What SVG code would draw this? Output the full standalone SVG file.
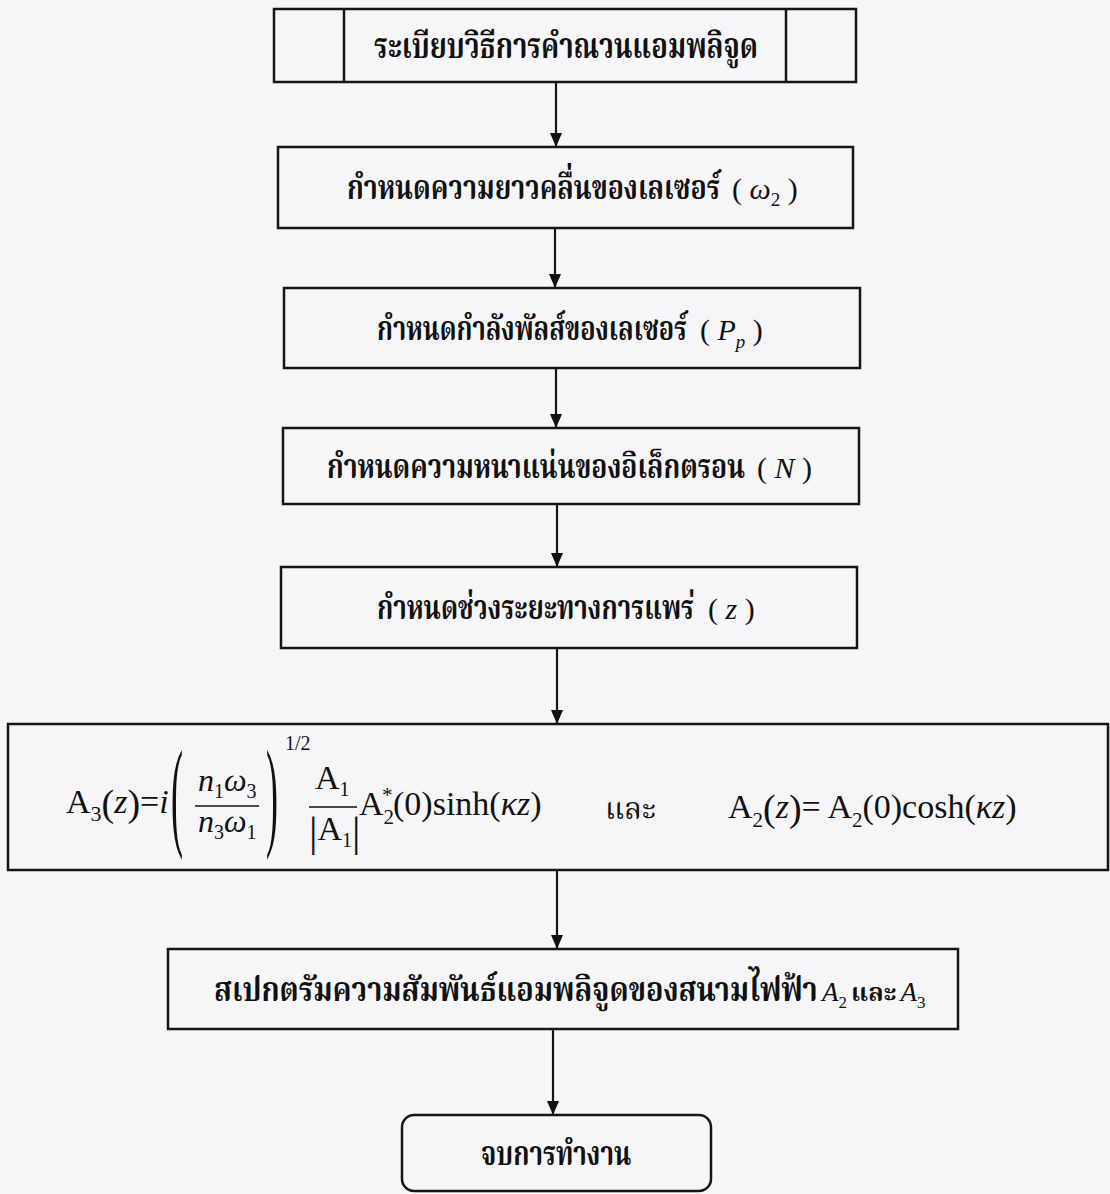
<svg xmlns="http://www.w3.org/2000/svg" width="1110" height="1194" viewBox="0 0 1110 1194">
<defs>
<marker id="ah" markerWidth="14" markerHeight="12" refX="14" refY="6" orient="auto" markerUnits="userSpaceOnUse" viewBox="0 0 14 12">
<path d="M0,0 L14,6 L0,12 Z" fill="#111"/>
</marker>
<style>
.box{fill:none;stroke:#151515;stroke-width:2.5}
.conn{stroke:#151515;stroke-width:2.2;fill:none}
.th{font-family:"Noto Serif Thai","Noto Sans Thai Looped","Noto Sans Thai","Noto Sans","DejaVu Sans",sans-serif;font-weight:bold;fill:#111}
.thr{font-family:"Noto Serif Thai","Noto Sans Thai Looped","Noto Sans Thai","Noto Sans","DejaVu Sans",sans-serif;font-weight:normal;fill:#111}
.m{font-family:"Liberation Serif","Times New Roman",serif;font-style:normal;font-weight:normal;fill:#111}
.mi{font-family:"Liberation Serif","Times New Roman",serif;font-style:italic;font-weight:normal;fill:#111}
.bar{stroke:#111;stroke-width:1.6}
</style>
</defs>
<rect x="0" y="0" width="1110" height="1194" fill="#f6f6f9"/>

<g id="connectors">
<line class="conn" x1="556" y1="82" x2="556" y2="147" marker-end="url(#ah)"/>
<line class="conn" x1="555" y1="228" x2="555" y2="288" marker-end="url(#ah)"/>
<line class="conn" x1="556" y1="368" x2="556" y2="428" marker-end="url(#ah)"/>
<line class="conn" x1="557" y1="504" x2="557" y2="567" marker-end="url(#ah)"/>
<line class="conn" x1="557" y1="648" x2="557" y2="724" marker-end="url(#ah)"/>
<line class="conn" x1="557" y1="870" x2="557" y2="949" marker-end="url(#ah)"/>
<line class="conn" x1="553" y1="1029" x2="553" y2="1115" marker-end="url(#ah)"/>
</g>

<g id="n1">
<rect class="box" x="274" y="9" width="582" height="73"/>
<line class="box" x1="344" y1="9" x2="344" y2="82"/>
<line class="box" x1="786" y1="9" x2="786" y2="82"/>
<text class="th" transform="translate(374,58) scale(0.762,1)" font-size="36">ระเบียบวิธีการคำณวนแอมพลิจูด</text>
</g>

<g id="n2">
<rect class="box" x="278" y="147" width="575" height="81"/>
<text class="th" transform="translate(347,199) scale(0.785,1)" font-size="34">กำหนดความยาวคลื่นของเลเซอร์</text>
<text class="m" x="732" y="199" font-size="30">( <tspan class="mi">ω</tspan><tspan font-size="19" dy="7">2</tspan><tspan dy="-7"> )</tspan></text>
</g>

<g id="n3">
<rect class="box" x="284" y="288" width="576" height="80"/>
<text class="th" transform="translate(377,340) scale(0.745,1)" font-size="34">กำหนดกำลังพัลส์ของเลเซอร์</text>
<text class="m" x="700" y="340" font-size="30">( <tspan class="mi">P</tspan><tspan class="mi" font-size="19" dy="8">p</tspan><tspan dy="-8"> )</tspan></text>
</g>

<g id="n4">
<rect class="box" x="283" y="428" width="576" height="76"/>
<text class="th" transform="translate(327,478) scale(0.78,1)" font-size="34">กำหนดความหนาแน่นของอิเล็กตรอน</text>
<text class="m" x="757" y="478" font-size="30">( <tspan class="mi">N</tspan> )</text>
</g>

<g id="n5">
<rect class="box" x="281" y="567" width="576" height="81"/>
<text class="th" transform="translate(377,619) scale(0.76,1)" font-size="34">กำหนดช่วงระยะทางการแพร่</text>
<text class="m" x="708" y="619" font-size="30">( <tspan class="mi">z</tspan> )</text>
</g>

<g id="n6">
<rect class="box" x="8" y="724" width="1100" height="146"/>
<text class="m" x="66" y="813" font-size="34">A<tspan font-size="22" dy="8">3</tspan><tspan font-size="38" dy="-5">(</tspan><tspan class="mi" dy="-3">z</tspan><tspan font-size="38" dy="3">)</tspan><tspan dy="-3">=</tspan><tspan class="mi">i</tspan></text>
<text class="m" transform="translate(171,834) scale(0.45,1.5)" font-size="80">(</text>
<text class="mi" x="198" y="791" font-size="32">n<tspan class="m" font-size="20" dy="7">1</tspan><tspan dy="-7">ω</tspan><tspan class="m" font-size="20" dy="7">3</tspan></text>
<line class="bar" x1="195" y1="806" x2="259" y2="806"/>
<text class="mi" x="198" y="832" font-size="32">n<tspan class="m" font-size="20" dy="7">3</tspan><tspan dy="-7">ω</tspan><tspan class="m" font-size="20" dy="7">1</tspan></text>
<text class="m" transform="translate(266,834) scale(0.45,1.5)" font-size="80">)</text>
<text class="m" x="285" y="750" font-size="20">1/2</text>
<text class="m" x="315" y="789" font-size="34">A<tspan font-size="20" dy="7">1</tspan></text>
<line class="bar" x1="309" y1="807" x2="357" y2="807"/>
<text class="m" x="309" y="846" font-size="42">|<tspan font-size="34" dy="-6">A</tspan><tspan font-size="20" dy="7">1</tspan><tspan font-size="42" dy="-1">|</tspan></text>
<text class="m" x="359" y="815" font-size="34">A<tspan font-size="21" dy="9">2</tspan><tspan font-size="21" x="382" dy="-22">*</tspan><tspan x="393" dy="13">(0)sinh(</tspan><tspan class="mi">κz</tspan>)</text>
<text class="thr" transform="translate(605,819) scale(0.98,1)" font-size="30">และ</text>
<text class="m" x="728" y="818" font-size="34">A<tspan font-size="21" dy="9">2</tspan><tspan font-size="38" dy="-6">(</tspan><tspan class="mi" dy="-3">z</tspan><tspan font-size="38" dy="3">)</tspan><tspan dy="-3">= A</tspan><tspan font-size="21" dy="9">2</tspan><tspan dy="-9">(0)cosh(</tspan><tspan class="mi">κz</tspan>)</text>
</g>

<g id="n7">
<rect class="box" x="168" y="949" width="790" height="80"/>
<text class="th" transform="translate(214,1001) scale(0.848,1)" font-size="34">สเปกตรัมความสัมพันธ์แอมพลิจูดของสนามไฟฟ้า</text>
<text class="mi" x="822" y="1001" font-size="27">A<tspan class="m" font-size="17" dy="7">2</tspan><tspan class="th" font-style="normal" font-size="25" dx="4" dy="-7">และ</tspan><tspan dx="4">A</tspan><tspan class="m" font-size="17" dy="7">3</tspan></text>
</g>

<g id="n8">
<rect class="box" x="402" y="1115" width="309" height="76" rx="12" ry="12"/>
<text class="th" transform="translate(481,1165) scale(0.76,1)" font-size="34">จบการทำงาน</text>
</g>
</svg>
